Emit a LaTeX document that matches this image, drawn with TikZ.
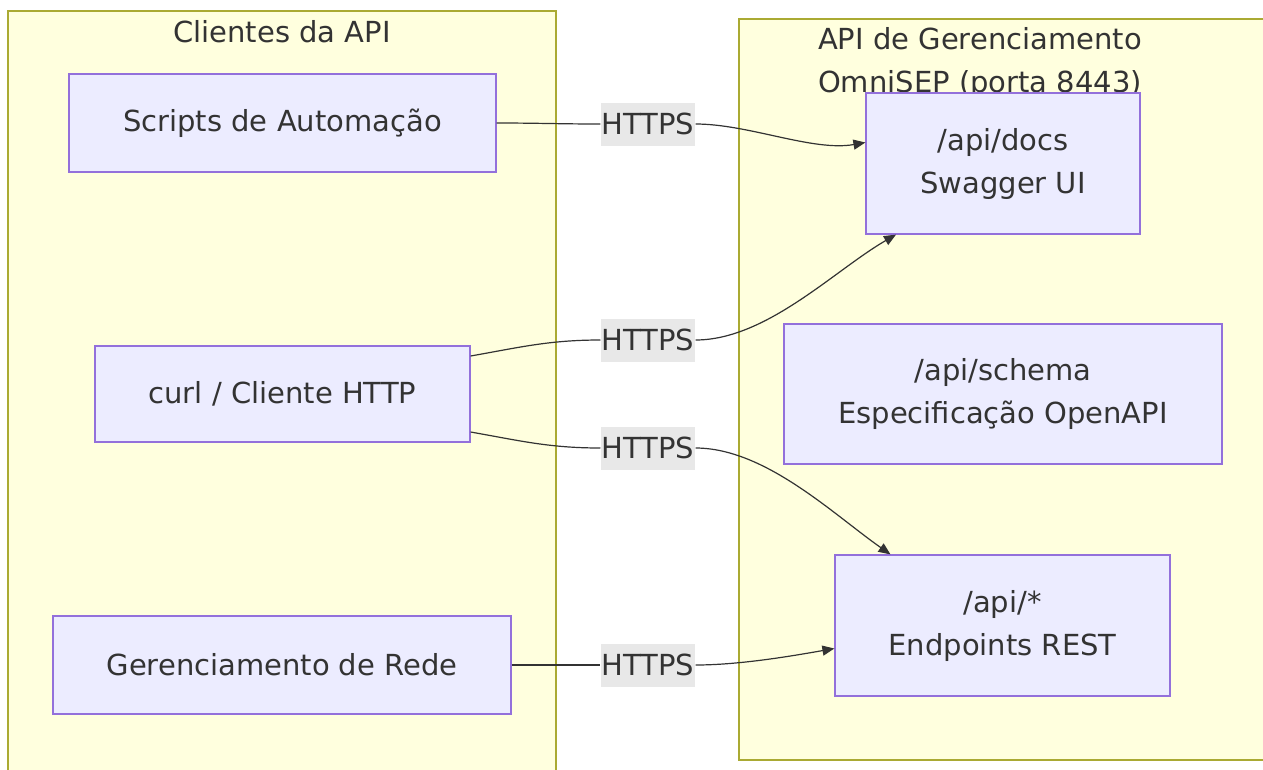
\documentclass[tikz,border=0pt]{standalone}
\usepackage{fontspec}
\setmainfont{DejaVu Sans}
\usetikzlibrary{arrows.meta}
\definecolor{clfill}{HTML}{FFFFDE}
\definecolor{cldraw}{HTML}{AAAA33}
\definecolor{ndfill}{HTML}{ECECFF}
\definecolor{nddraw}{HTML}{9370DB}
\definecolor{txt}{HTML}{333333}
\definecolor{lblbg}{HTML}{E8E8E8}
\tikzset{
  cluster/.style={fill=clfill,draw=cldraw,line width=1.2pt},
  box/.style={fill=ndfill,draw=nddraw,line width=1.2pt,text=txt,align=center,inner sep=0pt},
  lbl/.style={fill=lblbg,text=txt,inner xsep=1pt,inner ysep=0pt,minimum height=43pt},
  title/.style={text=txt,align=center},
  conn/.style={draw=txt,line width=1.2pt},
  arr/.style={conn,-{Triangle[length=12pt,width=10pt]}}
}
\begin{document}
\begin{tikzpicture}[x=1pt,y=-1pt,font=\fontsize{29}{43}\selectfont]
\useasboundingbox (0,0) rectangle (1263,769);
% clusters
\draw[cluster] (8,11) rectangle (556,780);
\draw[cluster] (739,19) rectangle (1275,760);
\node[title] (t1) at (282,32) {Clientes da API};
\node[title] (t2) at (980,63) {API de Gerenciamento\\OmniSEP (porta 8443)};
% nodes
\node[box,minimum width=427pt,minimum height=98pt] (scripts) at (282.5,123) {Scripts de Automação};
\node[box,minimum width=375pt,minimum height=96pt] (curl) at (282.5,394) {curl / Cliente HTTP};
\node[box,minimum width=458pt,minimum height=98pt] (ger) at (282,665) {Gerenciamento de Rede};
\node[box,minimum width=274pt,minimum height=141pt] (docs) at (1003,163.5) {/api/docs\\Swagger UI};
\node[box,minimum width=438pt,minimum height=140pt] (schema) at (1003,394) {/api/schema\\Especificação OpenAPI};
\node[box,minimum width=335pt,minimum height=141pt] (rest) at (1002.5,625.5) {/api/*\\Endpoints REST};
% labels
\node[lbl] (l1) at (648,124) {HTTPS};
\node[lbl] (l2) at (648,340) {HTTPS};
\node[lbl] (l3) at (648,448) {HTTPS};
\node[lbl] (l4) at (648,665) {HTTPS};
% edges
\draw[conn] (scripts.east) to[out=0,in=180] (l1.west);
\draw[arr] (l1.east) to[out=0,in=190,looseness=0.8] ([yshift=21pt]docs.west);
\draw[conn] ([yshift=38pt]curl.east) to[out=10,in=180] (l2.west);
\draw[arr] (l2.east) to[out=0,in=210,looseness=0.8] ([xshift=-107pt]docs.south);
\draw[conn] ([yshift=-38pt]curl.east) to[out=-10,in=180] (l3.west);
\draw[arr] (l3.east) to[out=0,in=145,looseness=0.8] ([xshift=-112pt]rest.north);
\draw[conn] (ger.east) to[out=0,in=180] (l4.west);
\draw[arr] (l4.east) to[out=0,in=190,looseness=0.8] ([yshift=-23pt]rest.west);
\end{tikzpicture}
\end{document}
